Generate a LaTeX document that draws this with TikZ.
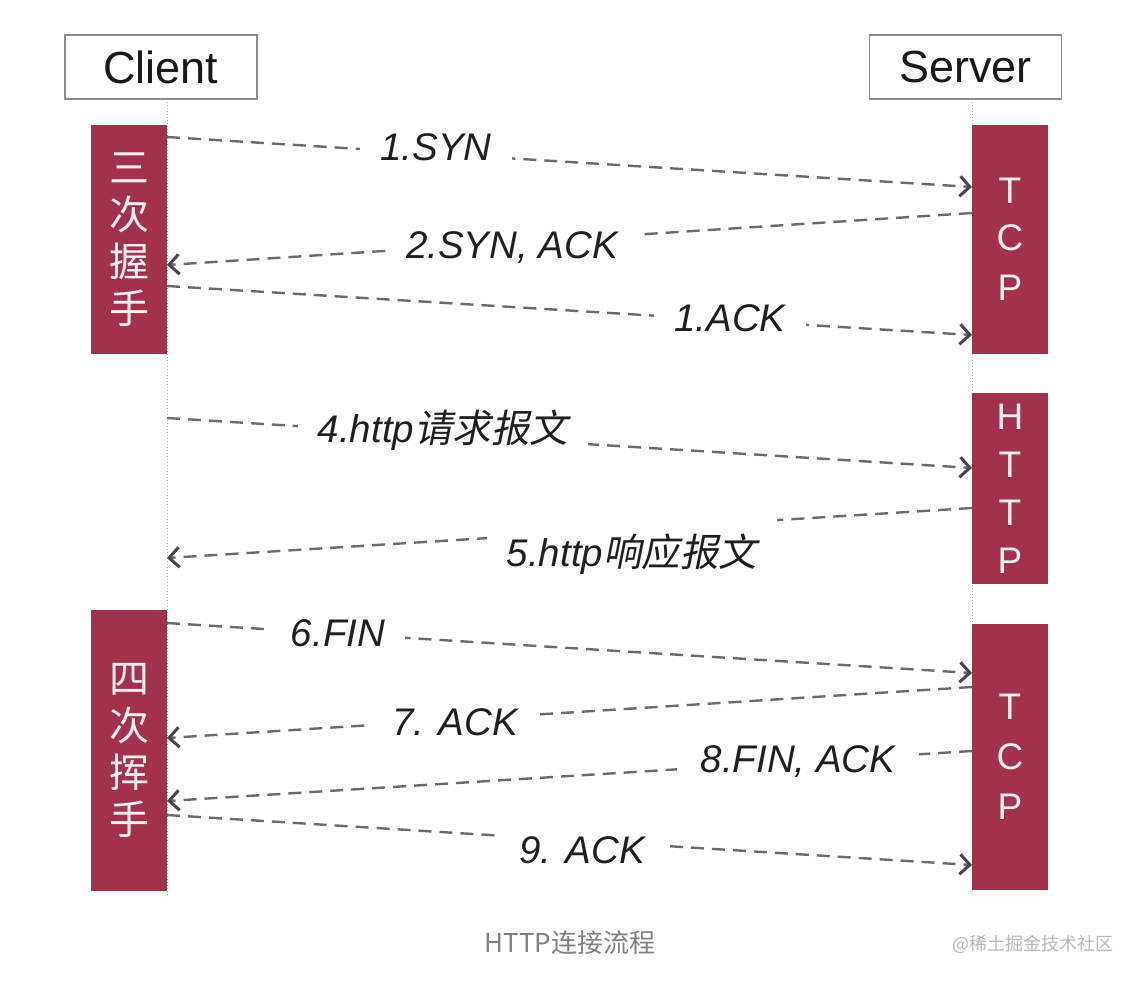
\documentclass[tikz,border=0pt]{standalone}
\usepackage{fontspec}
\setmainfont{Liberation Sans}
\newfontfamily\cjk{Noto Sans CJK SC}
\newfontfamily\cjksl[FakeSlant=0.2]{Noto Sans CJK SC}
\usetikzlibrary{arrows.meta}
\definecolor{boxred}{HTML}{A2324B}
\definecolor{boxtext}{HTML}{FBEFF2}
\begin{document}
\begin{tikzpicture}[x=1pt,y=-1pt,
  actor/.style={draw=black!45, line width=1.5pt, fill=white, minimum width=192pt, minimum height=64pt, inner sep=0pt, font=\fontsize{45}{48}\selectfont, text=black!90},
  phase/.style={fill=boxred, minimum width=76pt, inner sep=0pt, text=boxtext, align=center},
  lbl/.style={fill=white, inner xsep=20pt, inner ysep=3pt, text=black!88, font=\fontsize{38.5}{42}\selectfont\itshape},
  msg/.style={draw=black!58, line width=2.4pt, dash pattern=on 13pt off 8pt, -{Straight Barb[length=10pt,width=20pt,line width=3pt,color=black!72]}},
  life/.style={draw=black!32, line width=1pt, dotted}
]
\useasboundingbox[fill=white] (0,0) rectangle (1140,982);

% lifelines
\coordinate (cltop) at (167,99);
\coordinate (clbot) at (167,897);
\coordinate (svtop) at (972,99);
\coordinate (svbot) at (972,897);
\draw[life] (cltop) -- (clbot);
\draw[life] (svtop) -- (svbot);

% actors
\node[actor] (client) at (161,67) {\raisebox{-2pt}{Client}};
\node[actor] (server) at (965.5,67) {\raisebox{-2pt}{Server}};

% phase boxes
\node[phase, minimum height=229pt, font=\cjk\fontsize{40}{47}\selectfont] (hs) at (129,239.5) {三\\次\\握\\手};
\node[phase, minimum height=281pt, font=\cjk\fontsize{40}{47}\selectfont] (wave) at (129,750.5) {四\\次\\挥\\手};
\node[phase, minimum height=229pt, font=\fontsize{37}{50}\selectfont] (tcp1) at (1010,239.5) {\raisebox{-3pt}{T}\\C\\P};
\node[phase, minimum height=191pt, font=\fontsize{37}{48}\selectfont] (http) at (1010,488.5) {H\\T\\T\\P};
\node[phase, minimum height=266pt, font=\fontsize{37}{50}\selectfont] (tcp2) at (1010,757) {T\\C\\P};

% message endpoints
\coordinate (m1a) at (167,137); \coordinate (m1b) at (972,187);
\coordinate (m2a) at (972,213); \coordinate (m2b) at (167,265);
\coordinate (m3a) at (167,286); \coordinate (m3b) at (972,335);
\coordinate (m4a) at (167,418); \coordinate (m4b) at (972,468);
\coordinate (m5a) at (972,508); \coordinate (m5b) at (167,558);
\coordinate (m6a) at (167,623); \coordinate (m6b) at (972,673);
\coordinate (m7a) at (972,687); \coordinate (m7b) at (167,738);
\coordinate (m8a) at (972,751); \coordinate (m8b) at (167,801);
\coordinate (m9a) at (167,815); \coordinate (m9b) at (972,865);

\draw[msg] (m1a) -- (m1b);
\draw[msg] (m2a) -- (m2b);
\draw[msg] (m3a) -- (m3b);
\draw[msg] (m4a) -- (m4b);
\draw[msg] (m5a) -- (m5b);
\draw[msg] (m6a) -- (m6b);
\draw[msg] (m7a) -- (m7b);
\draw[msg] (m8a) -- (m8b);
\draw[msg] (m9a) -- (m9b);

% labels
\node[lbl] (l1) at (436,147) {1.SYN};
\node[lbl] (l2) at (512,248) {2.SYN, ACK};
\node[lbl] (l3) at (730,318) {1.ACK};
\node[lbl] (l4) at (443,430) {4.http{\cjksl 请求报文}};
\node[lbl, anchor=north, minimum height=76pt, inner ysep=0pt] (l5) at (632,516) {5.http{\cjksl 响应报文}};
\node[lbl] (l6) at (338,633) {6.FIN};
\node[lbl] (l7) at (455,722) {7. ACK};
\node[lbl, inner xsep=24pt] (l8) at (798,762) {8.FIN, ACK};
\node[lbl] (l9) at (582,850) {9. ACK};

% caption and watermark
\node[font=\cjk\fontsize{26}{30}\selectfont, text=black!50] (cap) at (570,943) {HTTP连接流程};
\node[font=\cjk\fontsize{18}{22}\selectfont, text=black!28] (wm) at (1033,944) {@稀土掘金技术社区};
\end{tikzpicture}
\end{document}
